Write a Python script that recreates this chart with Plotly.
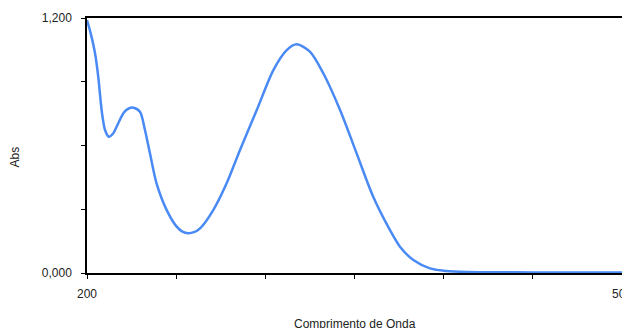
import plotly.graph_objects as go

wavelength = [200, 202, 204.5, 206.3, 208.2, 210.1, 212.3, 214.5, 216.6, 220.4, 223, 226, 229.7, 232.5,
              235.3, 239, 244.7, 250.3, 253.5, 256.8, 260, 263.4, 270.8, 278.3, 285.8, 295.2, 304.5,
              312, 317.6, 325, 332.5, 341.9, 351.2, 360.5, 369.9, 375.5, 383, 392.3, 399.8, 409,
              420, 440, 460, 480, 500]
absorbance = [1.19, 1.13, 1.034, 0.924, 0.767, 0.673, 0.641, 0.655, 0.688, 0.752, 0.772, 0.778, 0.759, 0.673,
              0.563, 0.422, 0.296, 0.218, 0.195, 0.187, 0.192, 0.21, 0.296, 0.422, 0.579, 0.767, 0.955,
              1.049, 1.076, 1.042, 0.94, 0.767, 0.563, 0.359, 0.202, 0.124, 0.061, 0.022, 0.011, 0.006,
              0.004, 0.003, 0.002, 0.002, 0.002]

x_ticks = [200, 250, 300, 350, 400, 450, 500]
x_ticktext = ["200", "", "", "", "", "", "500"]
y_ticks = [0, 0.3, 0.6, 0.9, 1.2]
y_ticktext = ["0,000", "", "", "", "1,200"]

x_title = "Comprimento de Onda"
y_title = "Abs"

font = dict(family="Liberation Sans, Arial, sans-serif", size=12, color="#222")

fig = go.Figure()
fig.add_trace(go.Scatter(x=wavelength, y=absorbance, mode="lines",
                         line=dict(color="#4a8af4", width=2.5, shape="spline", smoothing=0.8),
                         showlegend=False, hoverinfo="skip"))

fig.update_layout(
    width=630, height=328,
    margin=dict(l=79, r=16, t=10, b=63, autoexpand=False),
    paper_bgcolor="white", plot_bgcolor="white",
    font=font,
    xaxis=dict(range=[200, 500], tickvals=x_ticks, ticktext=x_ticktext,
               ticks="outside", ticklen=4, tickcolor="#000", tickwidth=1,
               showline=True, linecolor="#000", linewidth=1.5, mirror=True,
               showgrid=False, zeroline=False, ticklabelstandoff=5,
               automargin=False, ticklabeloverflow="allow"),
    yaxis=dict(range=[0, 1.2], tickvals=y_ticks, ticktext=y_ticktext,
               ticks="outside", ticklen=4, tickcolor="#000", tickwidth=1,
               showline=True, linecolor="#000", linewidth=1.5, mirror=True,
               showgrid=False, zeroline=False, ticklabelstandoff=7,
               automargin=False, ticklabeloverflow="allow"),
    annotations=[
        dict(text=x_title, xref="paper", yref="paper", x=0.5, y=0, xanchor="center",
             yanchor="middle", yshift=-51, showarrow=False, font=dict(size=12)),
        dict(text=y_title, xref="paper", yref="paper", x=0, y=0.5, xanchor="center",
             yanchor="middle", xshift=-73, yshift=-12, textangle=-90, showarrow=False,
             font=dict(size=12)),
    ],
)

fig.write_html("out.html")
